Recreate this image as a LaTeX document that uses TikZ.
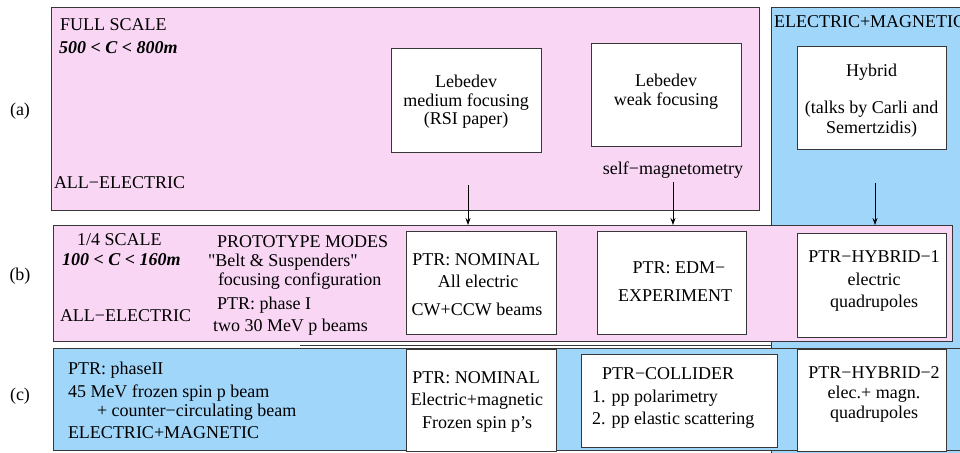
\documentclass[tikz,border=0pt]{standalone}
\usepackage{fontspec}
\setmainfont{Liberation Serif}[Ligatures=TeXOff]
\usetikzlibrary{arrows.meta}
\definecolor{pinkbg}{RGB}{248,214,244}
\definecolor{bluebg}{RGB}{160,214,250}
\definecolor{edgec}{RGB}{55,55,55}
\begin{document}
\begin{tikzpicture}[x=1pt,y=-1pt,
  every node/.style={font=\fontsize{18}{21}\selectfont, inner sep=0pt, outer sep=0pt},
  band/.style={draw=edgec, line width=0.9pt, anchor=north west, inner sep=0pt},
  pinkband/.style={band, fill=pinkbg},
  blueband/.style={band, fill=bluebg},
  wbox/.style={draw=edgec, fill=white, line width=0.9pt, anchor=north west, inner sep=0pt},
  txt/.style={anchor=base west},
  ctxt/.style={anchor=base},
  bi/.style={anchor=base west, font=\fontsize{18}{21}\selectfont\bfseries\itshape},
  arr/.style={draw=black, line width=0.8pt, -{Stealth[length=7pt,width=5pt]}},
]
\useasboundingbox (0,0) rectangle (960,452);
\begin{scope}
\clip (0,0) rectangle (960,452);
% backgrounds
\node[blueband, minimum width=203.5, minimum height=463] (blueR) at (771.5,7) {};
\node[pinkband, minimum width=708, minimum height=203] (pinkA) at (51,7) {};
\fill[white] (300,211) rectangle (771,345);
\draw[edgec, line width=0.9pt] (300,345) -- (771.5,345) -- (771.5,7);
% row (a)
\node[ctxt] (la) at (20,115) {(a)};
\node[txt] (fs) at (60,31) {FULL SCALE};
\node[bi] (ca) at (59,53) {500 < C < 800m};
\node[txt] (aea) at (54,188) {ALL−ELECTRIC};
\node[wbox, minimum width=150, minimum height=104] (lebm) at (391,48) {};
\node[ctxt] at (466,87) {Lebedev};
\node[ctxt] at (466,106) {medium focusing};
\node[ctxt] at (466,124) {(RSI paper)};
\node[wbox, minimum width=150, minimum height=103] (lebw) at (591,43) {};
\node[ctxt] at (666,86) {Lebedev};
\node[ctxt] at (666,105) {weak focusing};
\node[ctxt] (smag) at (673,174) {self−magnetometry};
\node[txt] (em) at (774,28) {ELECTRIC+MAGNETIC};
\node[wbox, minimum width=149, minimum height=103] (hyb) at (797,46) {};
\node[ctxt] at (871.5,77) {Hybrid};
\node[ctxt] at (871.5,113) {(talks by Carli and};
\node[ctxt] at (871.5,133.5) {Semertzidis)};
% row (b)
\node[pinkband, minimum width=899, minimum height=116] (pinkB) at (53,225) {};
\node[ctxt] (lb) at (20,280) {(b)};
\node[txt] at (77,245) {1/4 SCALE};
\node[bi] at (62,265) {100 < C < 160m};
\node[txt] at (60,321) {ALL−ELECTRIC};
\node[txt] at (217,247) {PROTOTYPE MODES};
\node[txt] at (208,266) {"Belt \& Suspenders"};
\node[txt] at (218,285) {focusing configuration};
\node[txt] at (217,309) {PTR: phase I};
\node[txt] at (213,331) {two 30 MeV p beams};
\node[wbox, minimum width=150, minimum height=103] (nomB) at (406,231) {};
\node[ctxt] at (476,265) {PTR: NOMINAL};
\node[ctxt] at (478,287) {All electric};
\node[ctxt] at (477,315) {CW+CCW beams};
\node[wbox, minimum width=149, minimum height=103] (edm) at (597,231) {};
\node[ctxt] at (679,273) {PTR: EDM−};
\node[ctxt] at (675,301) {EXPERIMENT};
\node[wbox, minimum width=149, minimum height=104] (hyb1) at (797,233) {};
\node[ctxt] at (874,262) {PTR−HYBRID−1};
\node[ctxt] at (874,285) {electric};
\node[ctxt] at (874,307) {quadrupoles};
% arrows
\coordinate (s1) at (468,185);
\coordinate (s2) at (673,182);
\coordinate (s3) at (875,183);
\draw[arr] (s1) -- (s1 |- pinkB.north);
\draw[arr] (s2) -- (s2 |- pinkB.north);
\draw[arr] (s3) -- (s3 |- pinkB.north);
% row (c)
\node[blueband, minimum width=922, minimum height=102] (blueC) at (53,348) {};
\node[ctxt] (lc) at (20,400) {(c)};
\node[txt] at (68,374) {PTR: phaseII};
\node[txt] at (68,397) {45 MeV frozen spin p beam};
\node[txt] at (97,416) {+ counter−circulating beam};
\node[txt] at (68,438) {ELECTRIC+MAGNETIC};
\node[wbox, minimum width=150, minimum height=102] (nomC) at (406,349) {};
\node[ctxt] at (476,383) {PTR: NOMINAL};
\node[ctxt] at (477,405) {Electric+magnetic};
\node[ctxt] at (477,428) {Frozen spin p’s};
\node[wbox, minimum width=196, minimum height=93] (coll) at (581,354) {};
\node[txt] at (602,379) {PTR−COLLIDER};
\node[txt] at (592,402) {1. pp polarimetry};
\node[txt] at (592,424) {2. pp elastic scattering};
\node[wbox, minimum width=149, minimum height=102] (hyb2) at (797,349) {};
\node[ctxt] at (874,378) {PTR−HYBRID−2};
\node[ctxt] at (874,398) {elec.+ magn.};
\node[ctxt] at (874,418) {quadrupoles};
\end{scope}
\end{tikzpicture}
\end{document}
